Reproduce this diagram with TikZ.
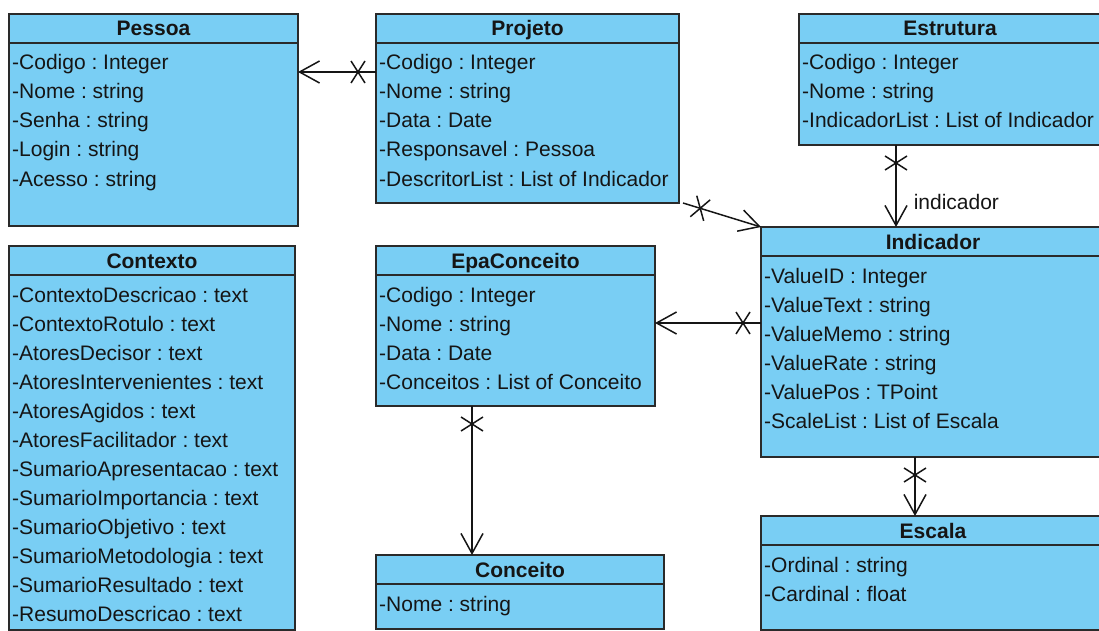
\documentclass[tikz,border=0pt]{standalone}
\usepackage{fontspec}
\setmainfont{Liberation Sans}
\usetikzlibrary{calc,arrows.meta,decorations.markings}
\frenchspacing

\definecolor{classfill}{HTML}{79CEF4}
\definecolor{classline}{HTML}{2A2A2A}
\definecolor{ink}{HTML}{151515}

\tikzset{
  classbox/.style={rectangle, draw=classline, fill=classfill, line width=1.8pt,
    anchor=north west, inner sep=0pt, outer sep=0pt},
  classrule/.style={draw=classline, line width=1.8pt},
  titletext/.style={anchor=base, inner sep=0pt, text=ink,
    font=\fontsize{21}{24}\selectfont\bfseries},
  rowtext/.style={anchor=base west, inner sep=0pt, text=ink,
    font=\fontsize{21}{24}\selectfont},
  assoc/.style={draw=ink, line width=1.5pt,
    -{Straight Barb[length=20pt,width=22pt]},
    postaction={decorate},
    decoration={markings, mark=at position 18pt with
      {\draw[ink, line width=1.5pt, arrows=-] (-7pt,-11pt) -- (7pt,11pt) (-7pt,11pt) -- (7pt,-11pt);}}},
  rolelabel/.style={anchor=west, inner sep=0pt, text=ink,
    font=\fontsize{21}{24}\selectfont},
}

% class box: name, x, y, width, height, title, attribute rows
\newcommand{\umlclass}[7]{%
  \node[classbox, minimum width=#4pt, minimum height=#5pt] (#1) at (#2,#3) {};
  \draw[classrule] ($(#1.north west)+(0,29)$) -- ($(#1.north east)+(0,29)$);
  \node[titletext] (#1-title) at ($(#1.north)+(0,22)$) {#6};
  \foreach \r [count=\i] in {#7} {%
    \node[rowtext] (#1-row\i) at ($(#1.north west)+(3,27+29*\i)$) {\r};}%
}

\begin{document}
\begin{tikzpicture}[x=1pt, y=-1pt]
  \useasboundingbox (0,0) rectangle (1099,631);
  \clip (0,0) rectangle (1099,631);

  \umlclass{pessoa}{9}{14}{289}{212}{Pessoa}
    {-Codigo : Integer, -Nome : string, -Senha : string, -Login : string, -Acesso : string}
  \umlclass{projeto}{376}{14}{303}{189}{Projeto}
    {-Codigo : Integer, -Nome : string, -Data : Date, -Responsavel : Pessoa, -DescritorList : List of Indicador}
  \umlclass{estrutura}{799}{14}{302}{131}{Estrutura}
    {-Codigo : Integer, -Nome : string, -IndicadorList : List of Indicador}
  \umlclass{contexto}{9}{246}{286}{384}{Contexto}
    {-ContextoDescricao : text, -ContextoRotulo : text, -AtoresDecisor : text,
     -AtoresIntervenientes : text, -AtoresAgidos : text, -AtoresFacilitador : text,
     -SumarioApresentacao : text, -SumarioImportancia : text, -SumarioObjetivo : text,
     -SumarioMetodologia : text, -SumarioResultado : text, -ResumoDescricao : text}
  \umlclass{epaconceito}{376}{246}{279}{160}{EpaConceito}
    {-Codigo : Integer, -Nome : string, -Data : Date, -Conceitos : List of Conceito}
  \umlclass{conceito}{376}{555}{288}{74}{Conceito}
    {-Nome : string}
  \umlclass{indicador}{761}{227}{344}{230}{Indicador}
    {-ValueID : Integer, -ValueText : string, -ValueMemo : string, -ValueRate : string,
     -ValuePos : TPoint, -ScaleList : List of Escala}
  \umlclass{escala}{761}{516}{344}{114}{Escala}
    {-Ordinal : string, -Cardinal : float}

  % associations
  \draw[assoc] ($(projeto.north west)+(0,58)$) coordinate (pp) -- (pp -| pessoa.east);
  \draw[assoc] ($(projeto.south east)+(4,0)$) -- (indicador.north west);
  \draw[assoc] ($(estrutura.south west)+(97,0)$) coordinate (ei) -- (ei |- indicador.north)
    node[rolelabel, pos=0.7, xshift=17pt] (ei-label) {indicador};
  \draw[assoc] ($(indicador.north west)+(0,96)$) coordinate (ie) -- (ie -| epaconceito.east);
  \draw[assoc] ($(epaconceito.south west)+(96,0)$) coordinate (ec) -- (ec |- conceito.north);
  \draw[assoc] ($(indicador.south west)+(154,0)$) coordinate (is) -- (is |- escala.north);
\end{tikzpicture}
\end{document}
